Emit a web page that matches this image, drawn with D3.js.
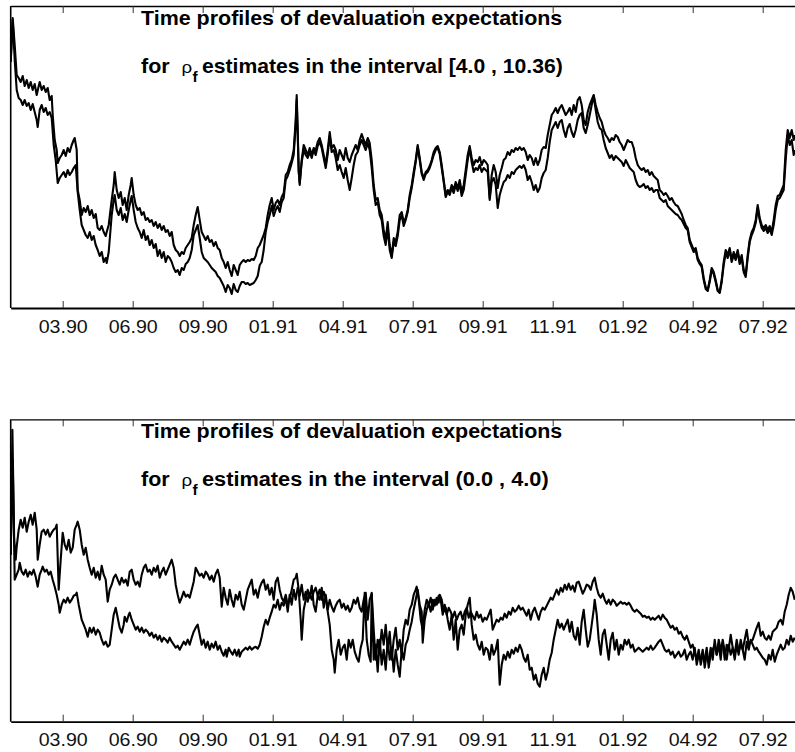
<!DOCTYPE html>
<html>
<head>
<meta charset="utf-8">
<script src="https://cdn.jsdelivr.net/npm/d3@7/dist/d3.min.js"></script>
<style>
  html, body { margin: 0; padding: 0; background: #fff; }
  svg { display: block; }
</style>
</head>
<body>
<svg id="chart" width="795" height="752"></svg>
<script>
// Trading-day index of each labelled month and its label
const tickDays = [52, 122, 192, 262, 332, 402, 472, 542, 612, 682, 752];
const tickLabels = ["03.90", "06.90", "09.90", "01.91", "04.91", "07.91", "09.91", "11.91", "01.92", "04.92", "07.92"];

// Panel headings
const headingLine = "Time profiles of devaluation expectations";
const intervalTop = "estimates in the interval [4.0 , 10.36)";
const intervalBottom = "estimates in the interval (0.0 , 4.0)";

// Devaluation expectations, [day, level], rho_f in [4.0 , 10.36)
const topSeriesA = [[0,246],[1,268],[2,290],[4,263],[6,233],[8,230],[10,226],[12,232],[14,222],[16,228],[18,220],[20,226],[22,218],[24,224],[26,213],[28,222],[29,226],[31,218],[33,222],[35,216],[37,220],[39,208],[41,212],[42,193],[44,168],[46,158],[47,145],[49,150],[51,153],[53,158],[55,152],[57,160],[59,156],[61,163],[63,168],[64,170],[66,158],[67,118],[69,108],[71,93],[73,100],[75,96],[77,102],[79,93],[81,98],[83,90],[85,94],[87,80],[89,78],[91,82],[93,76],[95,72],[96,76],[98,83],[101,108],[103,123],[104,136],[106,118],[108,110],[110,116],[112,103],[114,110],[116,98],[118,113],[120,123],[121,130],[123,113],[125,103],[127,98],[129,100],[131,93],[133,96],[135,88],[137,90],[139,86],[141,88],[143,82],[145,86],[147,80],[149,84],[151,78],[153,82],[155,76],[157,78],[159,72],[161,76],[163,63],[165,58],[167,56],[169,52],[171,56],[173,54],[175,60],[177,63],[179,66],[181,70],[183,83],[185,93],[187,101],[189,88],[191,76],[193,72],[195,68],[197,72],[199,66],[201,68],[203,62],[205,66],[207,60],[209,58],[211,50],[213,46],[215,40],[217,46],[219,38],[221,32],[223,43],[225,38],[227,33],[229,43],[231,46],[233,48],[235,46],[237,48],[239,47],[241,49],[243,48],[245,52],[247,60],[249,63],[251,68],[253,73],[255,80],[257,93],[259,103],[261,110],[263,98],[265,105],[267,108],[269,103],[271,111],[273,115],[275,133],[277,136],[279,143],[281,148],[283,158],[285,188],[286,213],[287,178],[288,138],[289,123],[291,148],[293,163],[295,158],[297,153],[299,160],[301,153],[303,160],[305,158],[307,166],[309,170],[311,163],[313,153],[315,143],[317,158],[319,176],[321,160],[323,163],[325,158],[327,148],[329,158],[331,153],[333,148],[335,160],[337,150],[339,146],[341,153],[343,158],[345,163],[347,158],[349,168],[351,174],[353,168],[355,163],[357,170],[359,165],[361,148],[363,123],[365,108],[367,110],[369,98],[371,93],[373,78],[375,68],[377,86],[379,63],[381,52],[383,70],[385,66],[387,76],[389,93],[391,96],[393,86],[395,90],[397,98],[399,113],[401,123],[403,136],[405,148],[407,163],[409,150],[411,136],[413,130],[415,136],[417,138],[419,142],[421,148],[423,156],[425,160],[427,162],[429,156],[431,143],[433,128],[435,113],[437,118],[439,116],[441,123],[443,118],[445,126],[447,120],[449,128],[451,116],[453,123],[455,138],[457,153],[459,162],[461,150],[463,143],[465,148],[467,146],[469,151],[471,143],[473,148],[475,146],[477,143],[479,110],[481,133],[483,143],[485,136],[487,120],[489,133],[491,140],[493,148],[495,150],[497,156],[499,153],[501,158],[503,156],[505,160],[507,158],[509,161],[511,158],[513,160],[515,156],[517,148],[519,153],[521,150],[523,143],[525,150],[527,143],[529,148],[531,158],[533,161],[535,160],[537,173],[539,183],[541,193],[543,196],[545,200],[547,195],[549,200],[551,203],[553,198],[555,193],[557,196],[559,200],[561,193],[563,203],[565,196],[567,208],[569,211],[571,203],[573,188],[575,183],[577,196],[579,203],[581,208],[583,213],[585,203],[587,196],[589,190],[591,186],[593,178],[595,173],[597,170],[599,166],[601,170],[603,168],[605,173],[607,171],[609,166],[611,163],[613,158],[615,163],[617,168],[619,166],[621,166],[623,160],[625,150],[627,143],[629,140],[631,138],[633,140],[635,136],[637,138],[639,133],[641,136],[643,132],[645,130],[647,128],[649,118],[651,116],[653,113],[655,115],[657,112],[659,108],[661,110],[663,106],[665,103],[667,102],[669,98],[671,94],[673,88],[675,83],[677,80],[679,68],[681,63],[683,58],[685,60],[687,50],[689,46],[691,43],[693,30],[695,21],[697,18],[699,28],[701,40],[703,36],[705,28],[707,18],[709,16],[711,28],[713,46],[715,58],[717,53],[719,60],[721,48],[723,56],[725,50],[727,58],[729,46],[731,53],[733,38],[735,33],[737,53],[739,68],[741,76],[743,80],[745,88],[747,103],[749,90],[751,83],[753,80],[755,83],[757,78],[759,82],[761,76],[763,88],[765,103],[767,112],[769,113],[771,118],[773,123],[775,158],[777,178],[779,170],[781,178],[783,168],[784,173]];

const topSeriesB = [[0,246],[1,268],[2,288],[4,248],[6,218],[8,210],[10,208],[12,203],[14,208],[16,202],[18,205],[20,198],[22,204],[24,196],[26,188],[27,181],[29,198],[31,203],[33,196],[35,200],[37,193],[39,196],[41,190],[43,163],[45,148],[47,125],[49,130],[51,133],[53,136],[55,131],[57,138],[59,133],[61,136],[63,140],[65,143],[67,116],[69,98],[71,83],[73,78],[75,73],[77,70],[79,76],[81,68],[83,72],[85,63],[87,58],[89,52],[91,56],[93,46],[95,50],[96,45],[98,56],[101,93],[103,108],[104,113],[106,98],[108,93],[110,100],[112,88],[114,94],[116,86],[118,98],[120,108],[121,112],[123,98],[125,86],[127,80],[129,76],[131,70],[133,78],[135,68],[137,72],[139,63],[141,68],[143,60],[145,64],[147,52],[149,58],[151,50],[153,56],[155,46],[157,52],[159,50],[161,46],[163,40],[165,36],[167,38],[169,33],[171,40],[173,38],[175,44],[177,46],[179,50],[181,58],[183,73],[185,78],[187,83],[189,70],[191,56],[193,50],[195,48],[197,46],[199,43],[201,40],[203,38],[205,36],[207,32],[209,30],[211,26],[213,22],[215,16],[217,23],[219,20],[221,14],[223,24],[225,18],[227,16],[229,22],[231,26],[233,26],[235,24],[237,25],[239,23],[241,24],[243,25],[245,28],[247,32],[249,43],[251,46],[253,58],[255,76],[257,86],[259,93],[261,102],[263,92],[265,98],[267,102],[269,96],[271,106],[273,110],[275,128],[277,132],[279,138],[281,145],[283,153],[285,183],[286,208],[287,173],[288,136],[289,125],[291,146],[293,158],[295,153],[297,150],[299,156],[301,150],[303,158],[305,153],[307,162],[309,166],[311,160],[313,150],[315,140],[317,154],[319,172],[321,156],[323,158],[325,150],[327,138],[329,143],[331,136],[333,130],[335,140],[337,128],[339,118],[341,130],[343,143],[345,153],[347,156],[349,163],[351,168],[353,163],[355,158],[357,165],[359,158],[361,140],[363,118],[365,103],[367,106],[369,93],[371,88],[373,72],[375,63],[377,80],[379,58],[381,50],[383,66],[385,62],[387,72],[389,88],[391,93],[393,82],[395,88],[397,96],[399,110],[401,120],[403,133],[405,146],[407,161],[409,148],[411,134],[413,128],[415,134],[417,136],[419,140],[421,146],[423,153],[425,158],[427,160],[429,154],[431,140],[433,126],[435,111],[437,116],[439,113],[441,120],[443,115],[445,123],[447,117],[449,124],[451,112],[453,118],[455,133],[457,148],[459,160],[461,146],[463,136],[465,140],[467,138],[469,143],[471,136],[473,140],[475,138],[477,136],[479,108],[481,126],[483,130],[485,123],[487,100],[489,113],[491,120],[493,126],[495,128],[497,133],[499,130],[501,136],[503,134],[505,138],[507,140],[509,142],[511,140],[513,143],[515,138],[517,128],[519,132],[521,126],[523,118],[525,123],[527,116],[529,120],[531,130],[533,135],[535,138],[537,150],[539,166],[541,178],[543,182],[545,186],[547,180],[549,186],[551,188],[553,178],[555,171],[557,180],[559,184],[561,176],[563,171],[565,178],[567,188],[569,193],[571,195],[573,180],[575,175],[577,183],[579,193],[581,203],[583,212],[585,198],[587,186],[589,180],[591,178],[593,168],[595,160],[597,155],[599,150],[601,153],[603,148],[605,152],[607,150],[609,148],[611,146],[613,142],[615,148],[617,144],[619,140],[621,138],[623,136],[625,128],[627,123],[629,121],[631,122],[633,124],[635,120],[637,122],[639,118],[641,120],[643,116],[645,118],[647,118],[649,110],[651,108],[653,106],[655,108],[657,102],[659,100],[661,98],[663,96],[665,94],[667,93],[669,90],[671,88],[673,84],[675,80],[677,78],[679,66],[681,61],[683,56],[685,58],[687,48],[689,44],[691,41],[693,28],[695,19],[697,17],[699,26],[701,38],[703,34],[705,26],[707,17],[709,15],[711,26],[713,43],[715,55],[717,50],[719,58],[721,46],[723,53],[725,48],[727,56],[729,44],[731,50],[733,36],[735,31],[737,50],[739,66],[741,73],[743,78],[745,85],[747,100],[749,88],[751,80],[753,77],[755,80],[757,75],[759,79],[761,73],[763,83],[765,98],[767,108],[769,110],[771,114],[773,118],[775,148],[777,173],[779,163],[781,168],[783,153],[784,158]];

// Devaluation expectations, [day, level], rho_f in (0.0 , 4.0)
const bottomSeriesA = [[0,167],[1,232],[1.7,292],[2.5,242],[3.5,182],[5,162],[6,175],[8,192],[10,202],[12,194],[14,204],[16,190],[18,200],[20,207],[22,197],[24,209],[26,192],[27,162],[29,177],[31,190],[33,192],[35,187],[37,192],[39,185],[41,189],[43,192],[45,194],[46,197],[48,132],[50,162],[52,189],[54,177],[56,172],[58,182],[60,169],[62,174],[64,192],[66,197],[67,200],[69,192],[71,177],[73,167],[75,174],[77,162],[79,154],[81,147],[83,154],[85,144],[87,150],[89,142],[91,156],[93,147],[95,142],[97,120],[99,132],[101,137],[103,144],[105,147],[107,142],[109,137],[111,144],[113,139],[115,142],[117,136],[119,150],[121,152],[123,142],[125,137],[127,140],[129,135],[131,147],[133,154],[135,157],[137,150],[139,152],[141,147],[143,154],[145,150],[147,156],[149,144],[151,150],[153,154],[155,147],[157,152],[159,157],[161,162],[163,154],[165,137],[167,127],[169,119],[171,124],[173,130],[175,125],[177,127],[179,124],[181,132],[183,140],[185,154],[187,150],[189,146],[191,148],[193,144],[195,150],[197,147],[199,142],[201,146],[203,140],[205,148],[207,152],[209,144],[211,115],[213,134],[215,124],[217,117],[219,132],[221,122],[223,115],[225,127],[227,122],[229,130],[231,117],[233,112],[235,122],[237,132],[239,137],[241,142],[243,127],[245,132],[247,124],[249,134],[251,139],[253,142],[255,132],[257,137],[259,127],[261,134],[263,122],[265,140],[267,144],[269,132],[271,124],[273,120],[275,127],[277,117],[279,122],[281,132],[283,142],[285,144],[286,148],[288,132],[290,102],[291,82],[293,112],[295,122],[297,132],[299,124],[301,136],[303,117],[305,110],[307,126],[309,122],[311,134],[313,114],[315,127],[317,112],[319,122],[321,115],[323,110],[325,116],[327,120],[329,122],[331,114],[333,118],[335,112],[337,116],[339,110],[341,114],[343,122],[345,118],[347,124],[349,114],[351,110],[353,122],[355,129],[357,102],[359,122],[361,128],[363,92],[365,62],[367,82],[369,72],[371,92],[373,77],[375,97],[377,72],[379,90],[381,62],[383,82],[385,94],[387,72],[389,82],[391,67],[393,92],[395,102],[397,97],[399,112],[401,117],[403,127],[405,132],[406,135],[408,122],[410,102],[412,92],[414,112],[416,122],[418,117],[420,124],[422,112],[424,122],[426,117],[428,126],[430,122],[432,107],[434,117],[436,107],[438,114],[440,110],[442,104],[444,110],[446,102],[448,107],[450,110],[452,102],[454,110],[456,114],[458,104],[460,110],[462,106],[464,102],[466,110],[468,104],[470,107],[472,100],[474,104],[476,102],[478,107],[480,112],[482,92],[484,97],[486,102],[488,100],[490,104],[492,102],[494,108],[496,104],[498,110],[500,107],[502,114],[504,110],[506,112],[508,116],[510,112],[512,114],[514,110],[516,106],[518,112],[520,102],[522,110],[524,114],[526,108],[528,102],[530,110],[532,114],[534,112],[536,116],[538,120],[540,124],[542,122],[544,127],[546,132],[548,127],[550,134],[552,130],[554,137],[556,132],[558,138],[560,132],[562,136],[564,130],[566,139],[568,140],[570,134],[572,128],[574,132],[576,137],[578,136],[580,132],[582,140],[584,144],[586,134],[588,127],[590,124],[592,128],[594,122],[596,118],[598,122],[600,117],[602,122],[604,120],[606,116],[608,118],[610,120],[612,118],[614,119],[616,117],[618,119],[620,116],[622,112],[624,110],[626,112],[628,110],[630,108],[632,105],[634,106],[636,104],[638,105],[640,102],[642,104],[644,102],[646,104],[648,106],[650,102],[652,107],[654,104],[656,102],[658,98],[660,94],[662,96],[664,92],[666,94],[668,88],[670,90],[672,85],[674,82],[676,86],[678,80],[680,74],[682,77],[684,70],[686,62],[688,72],[690,57],[692,67],[694,62],[696,74],[698,54],[700,67],[702,72],[704,77],[706,67],[708,82],[710,72],[712,80],[714,62],[716,77],[718,72],[720,87],[722,74],[724,67],[726,82],[728,70],[730,77],[732,72],[734,82],[736,92],[738,77],[740,80],[742,82],[744,88],[746,94],[748,99],[750,86],[752,90],[754,84],[756,82],[758,86],[760,82],[762,90],[764,92],[766,94],[768,100],[770,102],[772,97],[774,110],[776,117],[778,127],[780,134],[782,130],[784,122]];

const bottomSeriesB = [[0,167],[1,222],[2,262],[3,202],[4,142],[6,147],[8,152],[9,159],[11,150],[13,147],[15,152],[17,145],[19,150],[21,147],[23,152],[25,145],[27,135],[29,147],[31,152],[32,155],[34,150],[36,152],[38,147],[40,150],[42,142],[44,135],[46,127],[48,117],[49,109],[51,117],[53,122],[55,119],[57,124],[59,119],[61,122],[63,126],[65,127],[66,129],[68,117],[70,107],[71,102],[73,97],[75,92],[77,85],[79,94],[81,89],[83,94],[85,87],[87,92],[89,89],[91,82],[93,77],[95,80],[97,75],[99,77],[101,92],[103,107],[105,114],[107,104],[109,94],[111,89],[113,97],[114,105],[116,100],[118,107],[119,109],[121,102],[123,97],[125,92],[127,95],[129,90],[131,94],[133,89],[135,92],[137,90],[139,86],[141,89],[143,84],[145,87],[147,82],[149,86],[151,80],[153,84],[155,82],[157,79],[159,84],[161,80],[163,77],[165,74],[167,76],[169,72],[171,76],[173,80],[175,77],[177,82],[179,77],[181,84],[183,90],[185,94],[187,97],[189,87],[191,77],[193,82],[195,74],[197,80],[199,72],[201,78],[203,74],[205,80],[207,72],[209,76],[211,70],[213,66],[215,72],[216,65],[218,74],[220,70],[222,67],[224,72],[226,66],[228,72],[229,65],[231,70],[233,72],[235,74],[237,72],[239,75],[241,72],[243,74],[245,75],[247,73],[249,77],[251,85],[253,95],[255,102],[257,97],[259,104],[261,110],[263,117],[265,114],[267,122],[269,112],[271,119],[273,116],[275,124],[277,110],[279,127],[281,117],[283,132],[285,122],[287,134],[289,126],[291,137],[293,122],[295,130],[297,120],[299,128],[301,122],[303,130],[305,134],[307,126],[309,132],[311,122],[313,130],[315,124],[317,110],[319,97],[321,72],[323,62],[324,49],[326,72],[328,82],[330,67],[332,74],[334,77],[336,62],[338,82],[340,74],[342,82],[344,70],[346,64],[348,60],[350,74],[352,82],[354,129],[356,82],[358,67],[360,60],[361,129],[363,62],[365,77],[367,50],[369,82],[371,57],[373,72],[375,52],[377,82],[379,62],[381,74],[383,50],[385,72],[387,57],[389,45],[391,72],[393,62],[395,77],[397,82],[399,92],[401,100],[403,112],[405,122],[407,132],[409,117],[411,110],[412,79],[414,102],[416,112],[418,118],[420,110],[422,122],[424,116],[426,124],[428,119],[429,127],[431,122],[433,110],[435,114],[437,102],[439,92],[441,107],[443,82],[445,102],[447,72],[449,92],[451,97],[453,87],[455,107],[457,117],[459,124],[461,97],[463,82],[465,87],[467,77],[469,72],[471,80],[473,67],[475,74],[477,72],[479,62],[481,77],[483,67],[485,72],[487,82],[489,37],[491,57],[493,67],[495,62],[497,70],[499,64],[501,72],[503,68],[505,74],[507,70],[509,77],[511,72],[513,64],[515,60],[517,67],[519,52],[521,54],[523,42],[525,47],[527,38],[529,35],[531,47],[533,54],[535,42],[537,50],[539,62],[541,69],[543,82],[545,92],[547,102],[549,94],[551,98],[553,92],[555,97],[557,102],[559,90],[561,100],[563,86],[565,82],[567,94],[569,77],[571,100],[573,112],[575,92],[577,75],[579,82],[581,97],[583,112],[584,122],[586,107],[588,82],[590,67],[592,87],[594,92],[596,77],[598,62],[600,82],[602,89],[604,72],[606,82],[608,67],[610,77],[612,72],[614,82],[616,77],[618,82],[620,74],[622,77],[624,70],[626,72],[628,74],[630,72],[632,70],[634,72],[636,74],[638,72],[640,76],[642,72],[644,74],[646,77],[648,80],[650,82],[652,77],[654,72],[656,70],[658,72],[660,67],[662,70],[664,64],[666,67],[668,70],[670,65],[672,67],[674,72],[676,62],[678,67],[680,70],[682,62],[684,74],[686,57],[688,67],[690,62],[692,72],[694,54],[696,67],[698,60],[700,74],[702,62],[704,82],[706,67],[708,77],[710,62],[712,82],[714,70],[716,62],[718,77],[720,67],[722,74],[724,62],[726,77],[728,67],[730,82],[732,72],[734,62],[736,80],[738,72],[740,82],[742,77],[744,72],[746,74],[748,70],[750,67],[752,64],[754,62],[756,57],[758,67],[760,62],[762,72],[764,60],[766,67],[768,72],[770,77],[772,72],[774,74],[776,82],[778,77],[780,86],[782,80],[784,84]];

const svg = d3.select("#chart");
const FONT = "'Liberation Sans', Arial, Helvetica, sans-serif";

// shared horizontal layout
const left = 10.7, right = 797.7;
const x = d3.scaleLinear().domain([0, 787]).range([left, right]);

const panels = [
  { top: 6, bottom: 308, series: [topSeriesA, topSeriesB], interval: intervalTop, stretch2: 1.085, id: "p1" },
  { top: 419.3, bottom: 721.7, series: [bottomSeriesA, bottomSeriesB], interval: intervalBottom, stretch2: 1.115, id: "p2" }
];

const titleSize = 19.5;
const tickSize = 18;
const textStretch = 1.1;

panels.forEach(p => {
  const g = svg.append("g");
  const y = d3.scaleLinear().domain([0, 300]).range([p.bottom, p.bottom - 300]);

  g.append("clipPath").attr("id", "clip-" + p.id)
    .append("rect")
    .attr("x", left).attr("y", p.top)
    .attr("width", right - left).attr("height", p.bottom - p.top);

  // heading, drawn below the frame ticks
  const head = g.append("g").attr("font-family", FONT).attr("fill", "#000");
  const put = (tx, ty, size, bold, str, sx) => head.append("text")
    .attr("transform", `translate(${tx},${ty}) scale(${sx || textStretch},1)`)
    .attr("font-size", size)
    .attr("font-weight", bold ? "bold" : "normal")
    .text(str);
  const base1 = p.top + 19;
  const base2 = p.top + 66.5;
  put(141, base1, titleSize, true, headingLine);
  put(141, base2, titleSize, true, "for");
  put(181.5, base2, 17, false, "\u03C1");
  put(192.5, base2 + 9, 14, true, "f");
  put(202, base2, titleSize, true, p.interval, p.stretch2);

  // series
  const line = d3.line().x(d => x(d[0])).y(d => y(d[1]));
  g.append("g").attr("clip-path", `url(#clip-${p.id})`)
    .selectAll("path").data(p.series).join("path")
    .attr("d", line)
    .attr("fill", "none")
    .attr("stroke", "#000")
    .attr("stroke-width", 2.1)
    .attr("stroke-linejoin", "round");

  // frame: bottom axis with inward ticks and labels
  const axB = d3.axisBottom(x).tickValues(tickDays)
    .tickFormat((d, i) => tickLabels[i])
    .tickSizeInner(-7).tickSizeOuter(0).tickPadding(11.8);
  const gb = g.append("g").attr("transform", `translate(0,${p.bottom})`).call(axB);
  gb.select(".domain").attr("stroke", "#000").attr("stroke-width", 1.8);
  gb.selectAll(".tick line").attr("stroke", "#333").attr("stroke-width", 1);
  gb.selectAll(".tick text")
    .attr("font-family", FONT).attr("font-size", tickSize).attr("fill", "#111")
    .attr("transform", "scale(1.09,1)");

  // top border with inward ticks
  const axT = d3.axisTop(x).tickValues(tickDays).tickFormat("")
    .tickSizeInner(-7).tickSizeOuter(0);
  const gt = g.append("g").attr("transform", `translate(0,${p.top})`).call(axT);
  gt.select(".domain").attr("stroke", "#000").attr("stroke-width", 1.3);
  gt.selectAll(".tick line").attr("stroke", "#333").attr("stroke-width", 1);

  // left border
  g.append("line")
    .attr("x1", left).attr("x2", left)
    .attr("y1", p.top).attr("y2", p.bottom)
    .attr("stroke", "#000").attr("stroke-width", 1.6);
});
</script>
</body>
</html>
